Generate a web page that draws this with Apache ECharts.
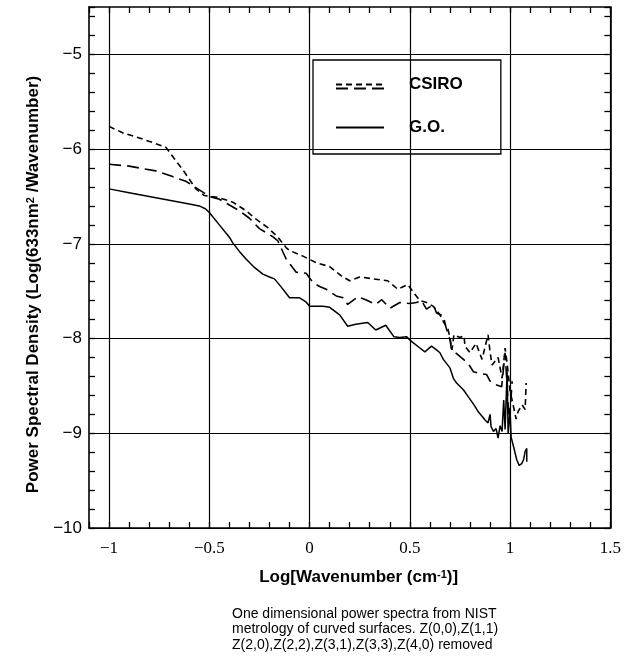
<!DOCTYPE html>
<html><head><meta charset="utf-8">
<script src="https://cdn.jsdelivr.net/npm/echarts@6/dist/echarts.min.js"></script>
<style>html,body{margin:0;padding:0;background:#fff}#c{width:624px;height:665px}</style>
</head><body><div id="c"></div>
<script>
// G.O. (solid)
const goX = [-1.0,-0.9,-0.8,-0.7,-0.6,-0.55,-0.52,-0.5,-0.45,-0.4,-0.383,-0.35,-0.317,-0.28,-0.233,-0.2,-0.175,-0.14,-0.1,-0.05,-0.02,0,0.067,0.1,0.15,0.19,0.23,0.29,0.33,0.38,0.42,0.45,0.483,0.508,0.55,0.575,0.608,0.633,0.65,0.667,0.7,0.717,0.733,0.767,0.79,0.82,0.84,0.86,0.875,0.89,0.9,0.905,0.917,0.93,0.94,0.95,0.96,0.968,0.975,0.985,0.99,1.0,1.005,1.017,1.033,1.045,1.058,1.067,1.075,1.083,1.083];
const goY = [-6.42,-6.46,-6.50,-6.54,-6.58,-6.60,-6.63,-6.67,-6.80,-6.93,-6.99,-7.08,-7.16,-7.24,-7.32,-7.35,-7.37,-7.46,-7.57,-7.57,-7.61,-7.66,-7.66,-7.67,-7.75,-7.87,-7.85,-7.83,-7.91,-7.86,-7.98,-7.99,-7.98,-8.03,-8.10,-8.14,-8.08,-8.12,-8.15,-8.22,-8.31,-8.42,-8.47,-8.54,-8.61,-8.70,-8.77,-8.82,-8.86,-8.89,-8.80,-8.93,-8.98,-8.95,-9.05,-8.92,-8.98,-8.65,-8.96,-8.35,-9.00,-8.78,-9.04,-9.14,-9.28,-9.34,-9.32,-9.28,-9.19,-9.16,-9.30];
// CSIRO, upper trace (short dashes)
const csiroAX = [-1.0,-0.93,-0.867,-0.783,-0.717,-0.675,-0.625,-0.567,-0.525,-0.458,-0.383,-0.317,-0.267,-0.208,-0.158,-0.117,-0.1,-0.033,0.033,0.1,0.16,0.2,0.25,0.317,0.39,0.44,0.49,0.517,0.55,0.583,0.617,0.65,0.667,0.69,0.7,0.71,0.72,0.75,0.77,0.775,0.8,0.83,0.86,0.89,0.9,0.91,0.94,0.96,0.975,0.985,1.0,1.01,1.03,1.04,1.06,1.075,1.08];
const csiroAY = [-5.76,-5.83,-5.87,-5.93,-5.98,-6.10,-6.24,-6.42,-6.49,-6.51,-6.56,-6.65,-6.74,-6.83,-6.93,-7.04,-7.07,-7.13,-7.20,-7.24,-7.34,-7.39,-7.35,-7.37,-7.39,-7.48,-7.43,-7.51,-7.60,-7.62,-7.66,-7.75,-7.82,-7.90,-7.99,-8.12,-7.96,-7.99,-7.97,-8.08,-8.15,-8.05,-8.22,-7.96,-8.14,-8.28,-8.20,-8.42,-8.10,-8.26,-8.56,-8.65,-8.85,-8.77,-8.70,-8.75,-8.47];
// CSIRO, middle trace (long dashes)
const csiroBX = [-1.0,-0.9,-0.767,-0.683,-0.617,-0.55,-0.5,-0.45,-0.4,-0.35,-0.3,-0.25,-0.187,-0.158,-0.117,-0.092,-0.067,-0.017,0.017,0.05,0.083,0.133,0.167,0.19,0.24,0.28,0.33,0.36,0.4,0.45,0.5,0.533,0.558,0.583,0.617,0.633,0.667,0.68,0.7,0.708,0.733,0.79,0.817,0.85,0.883,0.9,0.933,0.958,0.975,0.985,0.995,1.005,1.01];
const csiroBY = [-6.16,-6.18,-6.23,-6.29,-6.34,-6.43,-6.50,-6.53,-6.59,-6.65,-6.73,-6.84,-6.92,-6.97,-7.16,-7.23,-7.30,-7.31,-7.41,-7.45,-7.48,-7.55,-7.57,-7.64,-7.56,-7.59,-7.64,-7.59,-7.68,-7.62,-7.63,-7.62,-7.60,-7.69,-7.64,-7.73,-7.76,-7.88,-8.01,-8.12,-8.16,-8.26,-8.35,-8.37,-8.38,-8.45,-8.49,-8.51,-8.15,-8.50,-8.86,-8.62,-8.45];

const xMajor = [-1, -0.5, 0, 0.5, 1, 1.5];
const xTickLabels = ['\u22121', '\u22120.5', '0', '0.5', '1', '1.5'];
const yMajor = [-10, -9, -8, -7, -6, -5];
const yTickLabels = ['\u221210', '\u22129', '\u22128', '\u22127', '\u22126', '\u22125'];
const captionLines = ['One dimensional power spectra from NIST','metrology of curved surfaces. Z(0,0),Z(1,1)','Z(2,0),Z(2,2),Z(3,1),Z(3,3),Z(4,0) removed'];

const pairs = (xs, ys) => xs.map((x, i) => [x, ys[i]]);
const lookup = (majors, labels) => v => {
  for (let i = 0; i < majors.length; i++) if (Math.abs(v - majors[i]) < 1e-6) return labels[i];
  return '';
};
const CLR = 'rgba(0,0,0,0)';
const axisLineStyle = {show: true, onZero: false, lineStyle: {color: '#000', width: 1.6}};
const tickStyle = {show: true, inside: true, length: 6, lineStyle: {color: '#000', width: 1.3}};
const sansB = 'Liberation Sans, Arial, sans-serif';
const hiddenSymbol = {color: CLR, borderColor: CLR, borderWidth: 0};
const supStyle = {fontFamily: sansB, fontSize: 11, fontWeight: 'bold', color: '#000', verticalAlign: 'top', lineHeight: 4};

const chart = echarts.init(document.getElementById('c'), null, {renderer: 'canvas'});
chart.setOption({
  animation: false,
  backgroundColor: '#fff',
  grid: {left: 89, right: 13, top: 7, bottom: 137},
  title: {
    text: captionLines.join('\n'), left: 232, top: 606, padding: 0,
    textStyle: {fontFamily: sansB, fontSize: 14, fontWeight: 'normal', lineHeight: 15.5, color: '#000'}
  },
  legend: [
    {
      data: ['CSIRO', 'G.O.'], orient: 'vertical', left: 313, top: 60,
      padding: [16, 38, 18, 22], itemGap: 26, itemWidth: 48, itemHeight: 14,
      borderColor: '#000', borderWidth: 1.3, selectedMode: false, itemStyle: hiddenSymbol,
      textStyle: {fontFamily: sansB, fontSize: 17, fontWeight: 'bold', color: '#000', padding: [0, 0, 0, 20]}
    },
    {
      data: ['CSIRO (2)'], orient: 'vertical', left: 335, top: 81.5, padding: 0,
      itemWidth: 48, itemHeight: 14, selectedMode: false, formatter: () => '', itemStyle: hiddenSymbol,
      textStyle: {fontSize: 1}
    }
  ],
  xAxis: [
    {
      type: 'value', position: 'bottom', min: -1.1, max: 1.5, interval: 0.1,
      axisLine: axisLineStyle, axisTick: tickStyle,
      axisLabel: {formatter: lookup(xMajor, xTickLabels), margin: 12, color: '#000', fontFamily: 'Liberation Serif, serif', fontSize: 17},
      splitLine: {show: true, lineStyle: {color: [CLR, '#000', CLR, CLR, CLR], width: 1.2}},
      name: 'Log[Wavenumber (cm{sup|-1})]', nameLocation: 'middle', nameGap: 41,
      nameTextStyle: {fontFamily: sansB, fontSize: 17, fontWeight: 'bold', color: '#000', padding: [0, 0, 0, 18],
        rich: {sup: supStyle}}
    },
    {
      type: 'value', position: 'top', min: -1.1, max: 1.5, interval: 0.1,
      axisLine: axisLineStyle, axisTick: tickStyle, axisLabel: {show: false}, splitLine: {show: false}
    }
  ],
  yAxis: [
    {
      type: 'value', position: 'left', min: -10, max: -4.5, interval: 0.2,
      axisLine: axisLineStyle, axisTick: tickStyle,
      axisLabel: {formatter: lookup(yMajor, yTickLabels), margin: 7, color: '#000', fontFamily: sansB, fontSize: 17},
      splitLine: {show: true, lineStyle: {color: ['#000', CLR, CLR, CLR, CLR], width: 1.2}},
      name: 'Power Spectral Density (Log(633nm{sup|2} /Wavenumber)', nameLocation: 'middle', nameGap: 42,
      nameTextStyle: {fontFamily: sansB, fontSize: 17, fontWeight: 'bold', color: '#000', padding: [0, 34, 0, 0],
        rich: {sup: supStyle}}
    },
    {
      type: 'value', position: 'right', min: -10, max: -4.5, interval: 0.2,
      axisLine: axisLineStyle, axisTick: tickStyle, axisLabel: {show: false}, splitLine: {show: false}
    }
  ],
  series: [
    {name: 'CSIRO', type: 'line', data: pairs(csiroAX, csiroAY), symbol: 'none', z: 3,
      itemStyle: {color: '#000'}, lineStyle: {color: '#000', width: 1.6, type: [6, 4]}},
    {name: 'CSIRO (2)', type: 'line', data: pairs(csiroBX, csiroBY), symbol: 'none', z: 3,
      itemStyle: {color: '#000'}, lineStyle: {color: '#000', width: 1.6, type: [12, 6]}},
    {name: 'G.O.', type: 'line', data: pairs(goX, goY), symbol: 'none', z: 3,
      itemStyle: {color: '#000'}, lineStyle: {color: '#000', width: 1.5, type: 'solid'}}
  ]
});
</script></body></html>
